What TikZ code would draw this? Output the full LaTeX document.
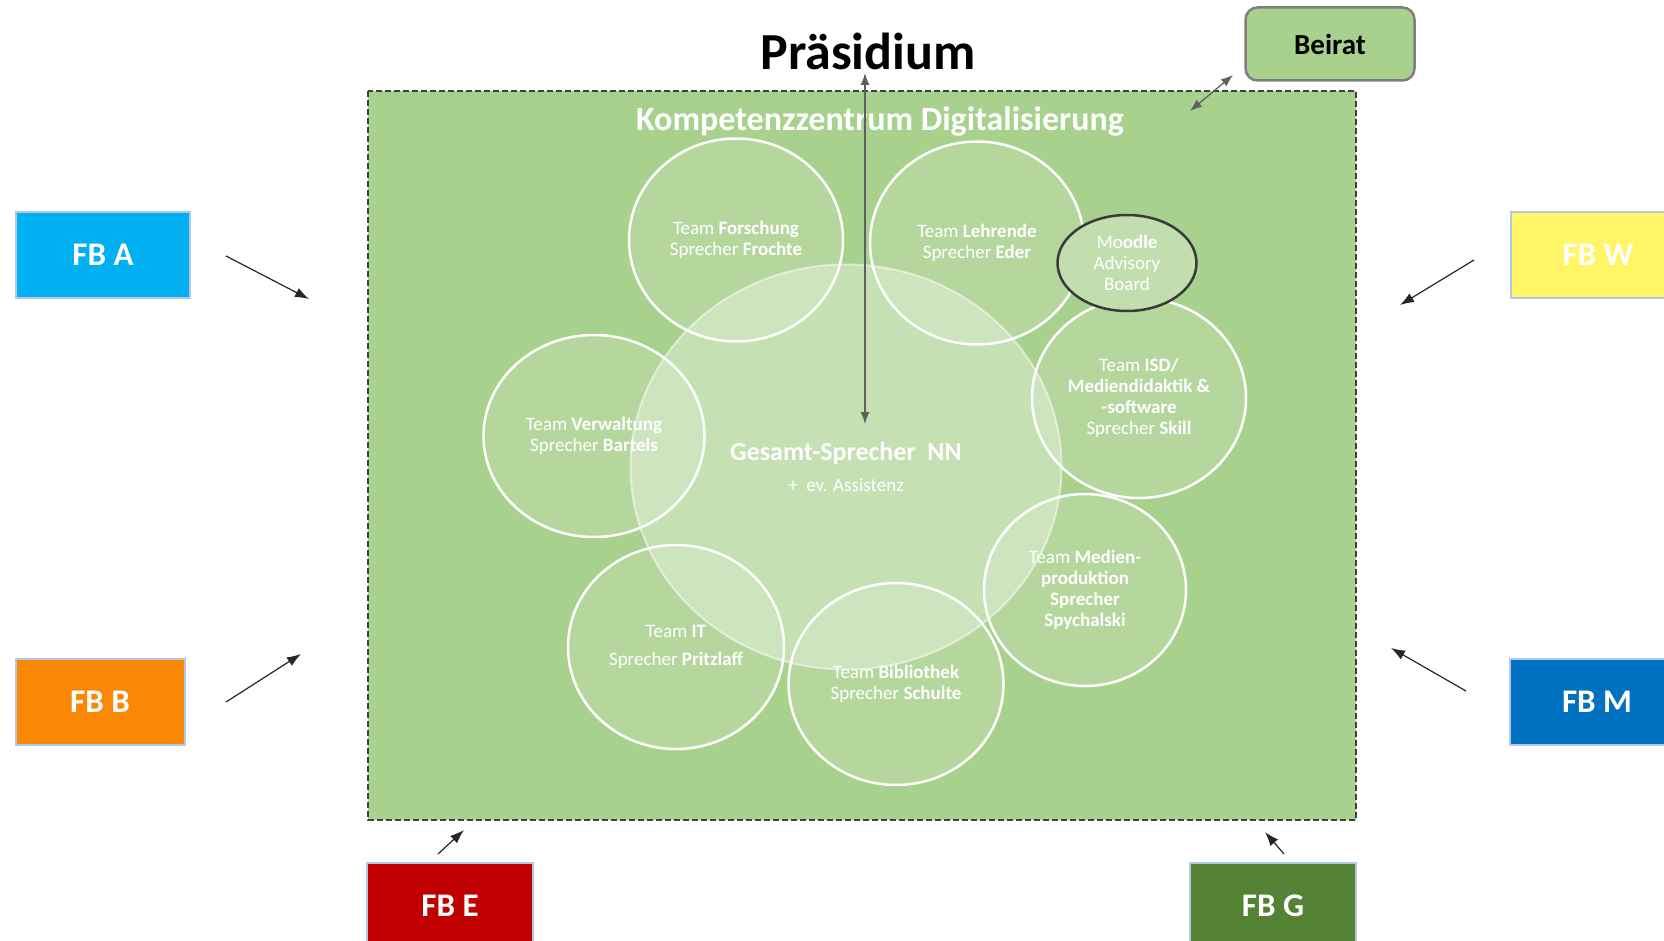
\documentclass[tikz,border=0pt]{standalone}
\usepackage{fontspec}
\setmainfont{Carlito}
\usetikzlibrary{shapes.geometric,arrows.meta}
\usepackage{xcolor}
\definecolor{kzGreen}{HTML}{A9D18E}
\definecolor{kzDash}{HTML}{404040}
\definecolor{beiratEdge}{HTML}{7F7F7F}
\definecolor{fbEdge}{HTML}{B4C7E7}
\definecolor{fbA}{HTML}{00B0F0}
\definecolor{fbB}{HTML}{FB8805}
\definecolor{fbW}{HTML}{FFF566}
\definecolor{fbM}{HTML}{0070C0}
\definecolor{fbE}{HTML}{C00000}
\definecolor{fbG}{HTML}{548235}
\definecolor{arrowGray}{HTML}{5F5F5F}
\definecolor{moodleFill}{HTML}{C2DEAF}
\definecolor{moodleEdge}{HTML}{3A3A3A}

\newcommand{\teamfont}{\fontsize{19}{21}\selectfont}

\begin{document}
\begin{tikzpicture}[x=1pt,y=-1pt,
		fbbox/.style={draw=fbEdge, line width=2pt, text=white, inner sep=0pt, minimum height=86pt, font=\fontsize{33}{40}\selectfont\bfseries},
		team/.style={ellipse, draw=white, line width=2.5pt, fill=white, fill opacity=0.15, text opacity=1, text=white, align=center, inner sep=0pt, font=\teamfont},
		fbarrow/.style={-{Latex[length=14pt,width=10pt]}, line width=1.2pt, black!85},
		grayarrow/.style={{Latex[length=12pt,width=9pt]}-{Latex[length=12pt,width=9pt]}, line width=1.3pt, arrowGray}]
			\clip (0,0) rectangle (1664,941);

			% Kompetenzzentrum area
			\draw[kzDash, line width=1.5pt, dash pattern=on 6pt off 3pt, fill=kzGreen] (368,91) rectangle (1356,820);
			\node[text=white, font=\fontsize{34}{40}\selectfont\bfseries] (kz) at (880,121) {Kompetenzzentrum Digitalisierung};

			% Labels above
			\node[font=\fontsize{52}{60}\selectfont\bfseries, inner sep=0pt] (praesidium) at (868,51) {Präsidium};
			\node[draw=beiratEdge, line width=2.5pt, fill=kzGreen, rounded corners=12pt, minimum width=169pt, minimum height=73pt, font=\fontsize{29}{34}\selectfont\bfseries] (beirat) at (1330,44) {Beirat};

			% Central speaker
			\node[ellipse, draw=white, draw opacity=0.5, line width=2pt, fill=white, fill opacity=0.33, text opacity=1, text=white, align=center, inner sep=0pt, minimum width=431pt, minimum height=405pt] (gesamt) at (846,467)
				{\fontsize{26}{30}\selectfont\bfseries Gesamt-Sprecher\ \ NN\\[13pt] \fontsize{19}{22}\selectfont\mdseries +\ \ ev. Assistenz};

			% Teams round the speaker
			\node[team, minimum width=214pt, minimum height=203pt] (forschung) at (736,240) {Team \textbf{Forschung}\\Sprecher \textbf{Frochte}};
			\node[team, minimum width=214pt, minimum height=203pt] (lehrende) at (977,243) {Team \textbf{Lehrende}\\Sprecher \textbf{Eder}};
			\node[team, minimum width=214pt, minimum height=200pt] (isd) at (1139,398) {Team \textbf{ISD/}\\\textbf{Mediendidaktik \&}\\\textbf{-software}\\Sprecher \textbf{Skill}};
			\node[team, minimum width=221pt, minimum height=202pt] (verwaltung) at (594,436) {Team \textbf{Verwaltung}\\Sprecher \textbf{Bartels}};
			\node[team, minimum width=202pt, minimum height=192pt] (medien) at (1085,590) {Team \textbf{Medien-}\\\textbf{produktion}\\\textbf{Sprecher}\\\textbf{Spychalski}};
			\node[team, minimum width=216pt, minimum height=204pt] (it) at (676,647) {Team \textbf{IT}\\[7pt]Sprecher \textbf{Pritzlaff}};
			\node[team, minimum width=215pt, minimum height=202pt] (bibliothek) at (896,684) {Team \textbf{Bibliothek}\\Sprecher \textbf{Schulte}};

			% Moodle board
			\node[ellipse, draw=moodleEdge, line width=2.5pt, fill=moodleFill, text=white, align=center, inner sep=0pt, minimum width=139pt, minimum height=96pt, font=\teamfont] (moodle) at (1127,263) {Mo\textbf{odle}\\Advisory\\Board};

			% Faculties
			\node[fbbox, fill=fbA, minimum width=174pt] (fba) at (103,255) {FB A};
			\node[fbbox, fill=fbB, minimum width=169pt] (fbb) at (100,702) {FB B};
			\node[fbbox, fill=fbW, minimum width=174pt] (fbw) at (1598,255) {FB W};
			\node[fbbox, fill=fbM, minimum width=174pt] (fbm) at (1597,702) {FB M};
			\node[fbbox, fill=fbE, minimum width=166pt] (fbe) at (450,906) {FB E};
			\node[fbbox, fill=fbG, minimum width=166pt] (fbg) at (1273,906) {FB G};

			% Arrow ends
			\coordinate (praes-foot) at (865,73);
			\coordinate (gesamt-head) at (865,424);
			\coordinate (beirat-foot) at (1233,75);
			\coordinate (kz-corner) at (1190,111);
			\coordinate (a-from) at (226,256);  \coordinate (a-to) at (309,299);
			\coordinate (b-from) at (226,702);  \coordinate (b-to) at (301,654);
			\coordinate (w-from) at (1474,260); \coordinate (w-to) at (1400,305);
			\coordinate (m-from) at (1466,691); \coordinate (m-to) at (1391,648);
			\coordinate (e-from) at (438,854);  \coordinate (e-to) at (464,830);
			\coordinate (g-from) at (1284,854); \coordinate (g-to) at (1265,832);

			% Draw arrows
			\draw[grayarrow] (praes-foot) -- (gesamt-head);
			\draw[grayarrow] (beirat-foot) -- (kz-corner);
			\foreach \f in {a,b,w,m,e,g}
			\draw[fbarrow] (\f-from) -- (\f-to);
		\end{tikzpicture}
\end{document}
